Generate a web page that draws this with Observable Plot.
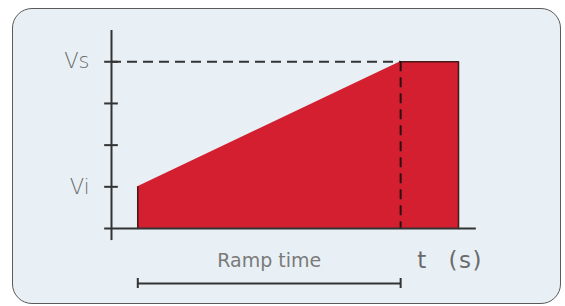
<!DOCTYPE html>
<html>
<head>
<meta charset="utf-8">
<script src="https://cdn.jsdelivr.net/npm/d3@7"></script>
<script src="https://cdn.jsdelivr.net/npm/@observablehq/plot@0.6"></script>
<style>
  html, body { margin: 0; padding: 0; background: #ffffff; }
  #wrap { position: relative; width: 565px; height: 306px; overflow: hidden; }
  #card { position: absolute; left: 12px; top: 8px; width: 547px; height: 294px;
          border: 1.5px solid #5a5a5a; border-radius: 20px; background: #e8f0f5; }
  #chart { position: absolute; left: 0; top: 0; }
</style>
</head>
<body>
<div id="wrap"><div id="card"></div><div id="chart"></div></div>
<script>
// Voltage profile: ramp from Vi to Vs, then hold
const profileT = [0.5, 5.5, 6.6];       // time points (arbitrary units)
const profileV = [1, 4, 4];             // voltage levels (Vi = 1, Vs = 4)
const yTicks = [1, 2, 3, 4];
const yTickLabels = ["Vi", "", "", "Vs"];
const rampStart = 0.5, rampEnd = 5.5, holdEnd = 6.6;
const xLabel = "t (s)";
const rampLabel = "Ramp time";

const profile = profileT.map((t, i) => ({t, v: profileV[i]}));
const outline = [
  [{t: rampStart, v: 0}, {t: rampStart, v: profileV[0]}],
  [{t: rampEnd, v: profileV[1]}, {t: holdEnd, v: profileV[2]}, {t: holdEnd, v: 0}]
];
const labelled = yTicks.map((y, i) => ({y, label: yTickLabels[i]})).filter(d => d.label);

const plot = Plot.plot({
  width: 565,
  height: 306,
  marginLeft: 111,
  marginRight: 86,
  marginTop: 30,
  marginBottom: 78,
  style: {background: "transparent", overflow: "visible"},
  x: {domain: [0, 7], axis: null},
  y: {domain: [0, 4.75], axis: null},
  marks: [
    Plot.areaY(profile, {x: "t", y: "v", fill: "#d41f30", curve: "linear"}),
    ...outline.map(seg => Plot.line(seg, {x: "t", y: "v", stroke: "#4a1a1a", strokeWidth: 1.6})),
    // dashed guides
    Plot.ruleY([4], {x1: 0, x2: rampEnd, stroke: "#333", strokeWidth: 2, strokeDasharray: "10,6"}),
    Plot.ruleX([rampEnd], {y1: 4, y2: 0, stroke: "#2a1010", strokeWidth: 2, strokeDasharray: "10,6"}),
    // axes
    Plot.ruleX([0], {y1: -0.29, y2: 4.75, stroke: "#333", strokeWidth: 2}),
    Plot.ruleY([0], {x1: -0.13, x2: 6.94, stroke: "#333", strokeWidth: 2}),
    Plot.ruleY(yTicks, {x1: -0.13, x2: 0.13, stroke: "#333", strokeWidth: 2}),
    Plot.text(labelled, {x: 0, y: "y", text: "label", dx: -22, textAnchor: "end",
      fontSize: 21, fill: "#6a6a6a", fontFamily: "DejaVu Sans", fontWeight: 300}),
    // x label
    Plot.text([xLabel], {x: 6.44, y: -0.77, text: d => d, fontSize: 23, fill: "#6a6a6a",
      fontFamily: "DejaVu Sans"}),
    // ramp time bracket
    Plot.text([rampLabel], {x: (rampStart + rampEnd) / 2, y: -0.77, text: d => d, fontSize: 19,
      fill: "#7a7a7a", fontFamily: "DejaVu Sans"}),
    Plot.ruleY([-1.32], {x1: rampStart, x2: rampEnd, stroke: "#333", strokeWidth: 2}),
    Plot.ruleX([rampStart, rampEnd], {y1: -1.2, y2: -1.44, stroke: "#333", strokeWidth: 2})
  ]
});
d3.select(plot).selectAll("text").filter(function() { return this.textContent === xLabel; })
  .style("letter-spacing", "1.5px").style("word-spacing", "12px");
document.getElementById("chart").appendChild(plot);
</script>
</body>
</html>
